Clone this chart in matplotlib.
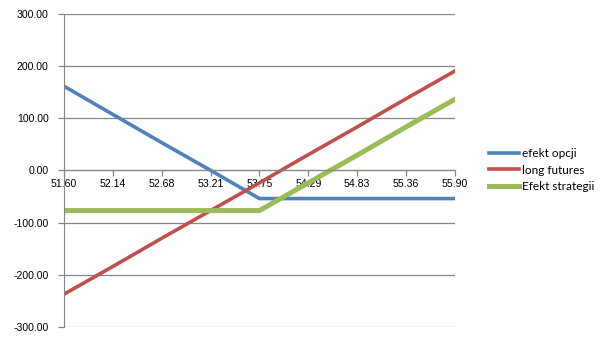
import matplotlib.pyplot as plt

# ceny (kategorie osi X)
ceny = ["51.60", "52.14", "52.68", "53.21", "53.75", "54.29", "54.83", "55.36", "55.90"]

efekt_opcji = [161, 107, 53, 0, -54, -54, -54, -54, -54]
long_futures = [-237, -184, -130, -77, -24, 30, 83, 137, 190]
efekt_strategii = [-77, -77, -77, -77, -77, -24, 29, 83, 136]

GRID = "#868686"

fig = plt.figure(figsize=(6.05, 3.4), dpi=100)
ax = fig.add_axes([0.1058, 0.038, 0.646, 0.922])

x = range(len(ceny))
ax.plot(x, efekt_opcji, color="#4F81BD", lw=2.6, label="efekt opcji", solid_joinstyle="miter")
ax.plot(x, long_futures, color="#C0504D", lw=2.6, label="long futures")
ax.plot(x, efekt_strategii, color="#9BBB59", lw=3.6, label="Efekt strategii", solid_joinstyle="miter")

ax.set_xlim(0, len(ceny) - 1)
ax.set_ylim(-300, 300)
ax.set_yticks(range(-300, 301, 100))
ax.set_yticklabels([f"{v:.2f}" for v in range(-300, 301, 100)])
ax.set_xticks(list(x))
ax.set_xticklabels(ceny)

ax.grid(axis="y", color=GRID, lw=0.9)
ax.set_axisbelow(True)

for s in ["top", "right"]:
    ax.spines[s].set_visible(False)
ax.spines["left"].set_color(GRID)
ax.spines["bottom"].set_color(GRID)
ax.spines["bottom"].set_position(("data", 0))

ax.tick_params(axis="both", colors=GRID, length=4, width=0.9, direction="out")
ax.tick_params(axis="y", pad=7)
ax.tick_params(axis="x", pad=2)
for lab in ax.get_xticklabels() + ax.get_yticklabels():
    lab.set_color("black")
    lab.set_fontsize(7.6)
    lab.set_family("Liberation Sans")

leg = fig.legend(loc="center left", bbox_to_anchor=(0.79, 0.5), frameon=False,
                 handlelength=2.6, handletextpad=0.25, labelspacing=0.45,
                 prop={"family": "Lato", "size": 8.5})

fig.savefig("out.png", dpi=100)
